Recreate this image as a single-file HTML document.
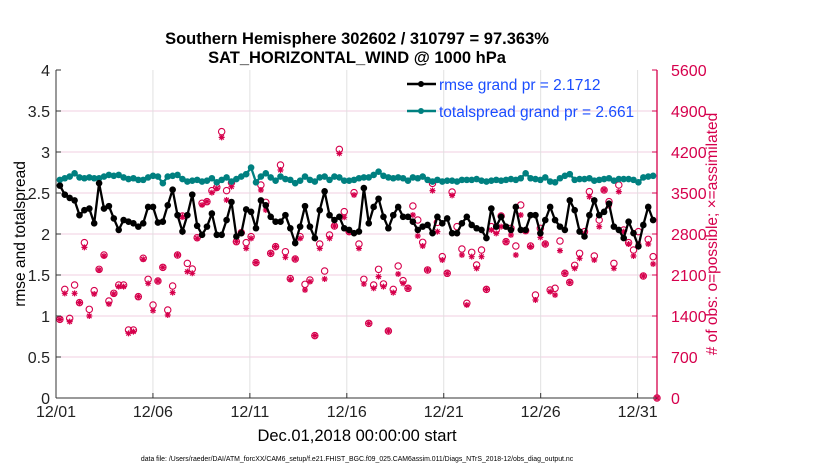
<!DOCTYPE html>
<html><head><meta charset="utf-8">
<style>
html,body{margin:0;padding:0;background:#fff;}
body{width:830px;height:470px;overflow:hidden;font-family:"Liberation Sans",sans-serif;}
</style></head>
<body>
<svg id="chart" width="830" height="470" xmlns="http://www.w3.org/2000/svg" font-family="Liberation Sans, sans-serif">
<g id="grid"></g>
<g id="series"></g>
<g id="axes"></g>
<text x="357" y="44" font-size="16.5" font-weight="bold" text-anchor="middle">Southern Hemisphere 302602 / 310797 = 97.363%</text>
<text x="357" y="63" font-size="16.5" font-weight="bold" text-anchor="middle">SAT_HORIZONTAL_WIND @ 1000 hPa</text>
<text x="357" y="441" font-size="16.5" text-anchor="middle">Dec.01,2018 00:00:00 start</text>
<text transform="translate(25,234) rotate(-90)" font-size="15.5" text-anchor="middle">rmse and totalspread</text>
<text transform="translate(717,234) rotate(-90)" font-size="15.5" text-anchor="middle" fill="#d6004c">#  of obs: o=possible; ×=assimilated</text>
<text x="357" y="461" font-size="6.9" text-anchor="middle">data file: /Users/raeder/DAI/ATM_forcXX/CAM6_setup/f.e21.FHIST_BGC.f09_025.CAM6assim.011/Diags_NTrS_2018-12/obs_diag_output.nc</text>
<g>
<line x1="407" y1="84" x2="436" y2="84" stroke="#000" stroke-width="2.5"/>
<circle cx="421" cy="84" r="3" fill="#000"/>
<text x="439" y="90" font-size="15.5" fill="#1a4dff">rmse grand pr = 2.1712</text>
<line x1="407" y1="111" x2="436" y2="111" stroke="#008080" stroke-width="2.5"/>
<circle cx="421" cy="111" r="3" fill="#008080"/>
<text x="439" y="117" font-size="15.5" fill="#1a4dff">totalspread grand pr = 2.661</text>
</g>
</svg>
<script>
const xTicks=[0,5,10,15,20,25,30];
const xTickLabels=["12/01","12/06","12/11","12/16","12/21","12/26","12/31"];
const yTicks=[0,0.5,1,1.5,2,2.5,3,3.5,4];
const yTickLabels=["0","0.5","1","1.5","2","2.5","3","3.5","4"];
const y2Ticks=[0,700,1400,2100,2800,3500,4200,4900,5600];
const rmse=[2.59,2.48,2.44,2.41,2.23,2.29,2.31,2.13,2.62,2.31,2.34,2.19,2.05,2.17,2.15,2.13,2.09,2.13,2.33,2.33,2.14,2.15,2.35,2.54,2.23,2.03,2.23,2.48,2.10,1.99,2.09,2.25,1.99,1.99,2.17,2.39,1.97,2.01,2.30,2.27,2.07,2.41,2.35,2.21,2.15,2.15,2.23,2.07,1.89,2.09,2.34,2.09,1.95,2.29,2.52,2.23,2.17,2.21,2.07,2.05,
2.01,2.03,2.56,2.13,2.33,2.43,2.21,2.07,2.23,2.33,2.21,2.21,2.15,2.05,2.09,2.11,2.01,2.21,2.13,2.19,2.01,2.01,2.13,2.21,2.11,2.07,2.05,1.95,2.31,2.09,2.21,2.09,2.05,2.33,2.05,2.05,2.23,2.23,2.01,2.17,2.33,2.17,2.09,2.05,2.41,2.29,2.03,1.97,2.23,2.41,2.23,2.27,2.37,2.09,2.05,1.95,2.15,2.01,1.85,2.11,2.33,2.17];
const spread=[2.66,2.68,2.70,2.74,2.69,2.68,2.69,2.68,2.68,2.70,2.72,2.71,2.72,2.69,2.67,2.68,2.66,2.66,2.69,2.71,2.70,2.62,2.70,2.71,2.72,2.67,2.64,2.65,2.66,2.64,2.65,2.68,2.63,2.66,2.69,2.64,2.67,2.70,2.73,2.81,2.63,2.70,2.74,2.69,2.65,2.70,2.67,2.66,2.62,2.65,2.70,2.66,2.64,2.69,2.70,2.66,2.70,2.69,2.65,2.65,
2.66,2.68,2.69,2.69,2.72,2.76,2.71,2.69,2.68,2.69,2.68,2.65,2.69,2.68,2.70,2.66,2.64,2.66,2.64,2.65,2.65,2.64,2.66,2.66,2.66,2.67,2.65,2.64,2.65,2.66,2.65,2.66,2.67,2.66,2.68,2.74,2.68,2.67,2.66,2.69,2.64,2.63,2.68,2.71,2.73,2.66,2.67,2.67,2.68,2.65,2.66,2.67,2.68,2.65,2.67,2.67,2.67,2.66,2.63,2.69,2.70,2.71];
const possible=[1343,1855,1360,1929,1628,2652,1514,1833,2197,2442,1656,1787,1929,1929,1161,1161,1730,2385,2026,1588,1998,2231,1503,1912,2442,3107,2299,2203,2737,3324,3352,3540,3597,4547,3540,3676,2669,2823,2652,2755,2311,3636,3341,2470,2584,3978,2498,2038,2373,2755,1941,2015,1065,2629,2168,2783,2937,4245,3181,2840,
3506,2629,2026,1275,1929,2197,1947,1144,1855,2254,2004,1873,3278,3039,2658,2186,3665,2999,2413,2129,3517,2925,2544,1617,2487,2271,2527,1855,2925,2868,3107,2669,2897,2595,3295,2857,2595,1759,2897,2629,1844,1873,2681,2129,1975,2265,2470,2840,3523,2425,3039,3551,3352,2299,3636,2868,2652,2527,2840,2083,2709,2413];
const assimilated=[1343,1787,1304,1787,1628,2572,1400,1776,2186,2425,1605,1776,1901,1901,1104,1133,1730,2368,1958,1491,1998,2231,1417,1799,2442,3096,2157,2129,2726,3295,3352,3506,3580,4450,3380,3608,2669,2811,2555,2726,2311,3551,3210,2470,2584,3893,2402,2026,2373,2726,1844,1986,1065,2555,2032,2726,2937,4177,3085,2829,
3466,2555,1947,1275,1873,2072,1901,1144,1799,2117,1958,1873,3124,2766,2595,2186,3540,2840,2356,2129,3460,2811,2442,1588,2413,2214,2413,1855,2868,2811,2925,2669,2783,2442,3124,2857,2584,1673,2743,2629,1816,1759,2516,2129,1975,2214,2385,2811,3437,2356,2925,3551,3278,2214,3523,2840,2629,2425,2629,2083,2629,2288];
const lastDay=[31];
const lastCount=[0];

const L=56,R=657,T=70,B=398,XMAX=31;
const sx=d=>L+d*(R-L)/XMAX;
const sy=v=>B-v*(B-T)/4;
const sy2=c=>B-c*(B-T)/5600;
const dayOf=(i,n)=>0.2+i*(30.6/(n-1));
const NS="http://www.w3.org/2000/svg";
function mk(tag,attrs,parent){const e=document.createElementNS(NS,tag);for(const k in attrs)e.setAttribute(k,attrs[k]);parent.appendChild(e);return e;}
const grid=document.getElementById('grid'),ser=document.getElementById('series'),ax=document.getElementById('axes');
yTicks.forEach((v,i)=>{
  if(i>0&&i<yTicks.length-1){const g=mk('line',{x1:L,x2:R,y1:sy(v),y2:sy(v),stroke:'#f2cfe0','stroke-width':1},grid);
  
  }
  const t=mk('text',{x:L-6,y:sy(v)+6,'font-size':16,'text-anchor':'end',fill:'#222'},ax);t.textContent=yTickLabels[i];
  
  
  mk('line',{x1:L,x2:L+5,y1:sy(v),y2:sy(v),stroke:'#333'},ax);
});
y2Ticks.forEach(c=>{
  mk('line',{x1:R-5,x2:R,y1:sy2(c),y2:sy2(c),stroke:'#d6004c'},ax);
  const t=mk('text',{x:R+14,y:sy2(c)+6,'font-size':16,fill:'#d6004c'},ax);t.textContent=String(c);
  
  
});
xTicks.forEach((d,i)=>{
  if(i>0){const g=mk('line',{x1:sx(d),x2:sx(d),y1:T,y2:B,stroke:'#e0e0e0'},grid);
  
  }
  mk('line',{x1:sx(d),x2:sx(d),y1:B,y2:B-5,stroke:'#333'},ax);
  const t=mk('text',{x:sx(d),y:B+19,'font-size':16,'text-anchor':'middle',fill:'#222'},ax);t.textContent=xTickLabels[i];
  
  
});
mk('line',{x1:L,x2:L,y1:T,y2:B,stroke:'#333'},ax);
mk('line',{x1:L,x2:R,y1:B,y2:B,stroke:'#333'},ax);
mk('line',{x1:R,x2:R,y1:T,y2:B,stroke:'#d6004c','stroke-width':1.3},ax);
function star(x,y,p){const s=3;
  const g=mk('path',{d:`M${x-s},${y}H${x+s}M${x},${y-s}V${y+s}M${x-2.2},${y-2.2}L${x+2.2},${y+2.2}M${x-2.2},${y+2.2}L${x+2.2},${y-2.2}`,stroke:'#d6004c','stroke-width':1.2,fill:'none'},p);return g;}
possible.forEach((c,i)=>{
  const e=mk('circle',{cx:sx(dayOf(i,possible.length)),cy:sy2(c),r:3.2,fill:'none',stroke:'#d6004c','stroke-width':1.1},ser);
  
  
});
assimilated.forEach((c,i)=>{
  const e=star(sx(dayOf(i,assimilated.length)),sy2(c),ser);
  
  
});
lastDay.forEach((d,i)=>{
  const e=mk('circle',{cx:sx(d),cy:sy2(lastCount[i]),r:3.2,fill:'none',stroke:'#d6004c','stroke-width':1.1},ser);
  
  
  const s=star(sx(d),sy2(lastCount[i]),ser);
  
  
});
function line(arr,color,name){
  const pts=arr.map((v,i)=>sx(dayOf(i,arr.length)).toFixed(1)+','+sy(v).toFixed(1)).join(' ');
  const pl=mk('polyline',{points:pts,fill:'none',stroke:color,'stroke-width':2.3},ser);
  
  
  arr.forEach((v,i)=>{
    const c=mk('circle',{cx:sx(dayOf(i,arr.length)),cy:sy(v),r:3.3,fill:color},ser);
    
    
  });
}
line(spread,'#008080','totalspread');
line(rmse,'#000','rmse');
</script>
</body></html>
